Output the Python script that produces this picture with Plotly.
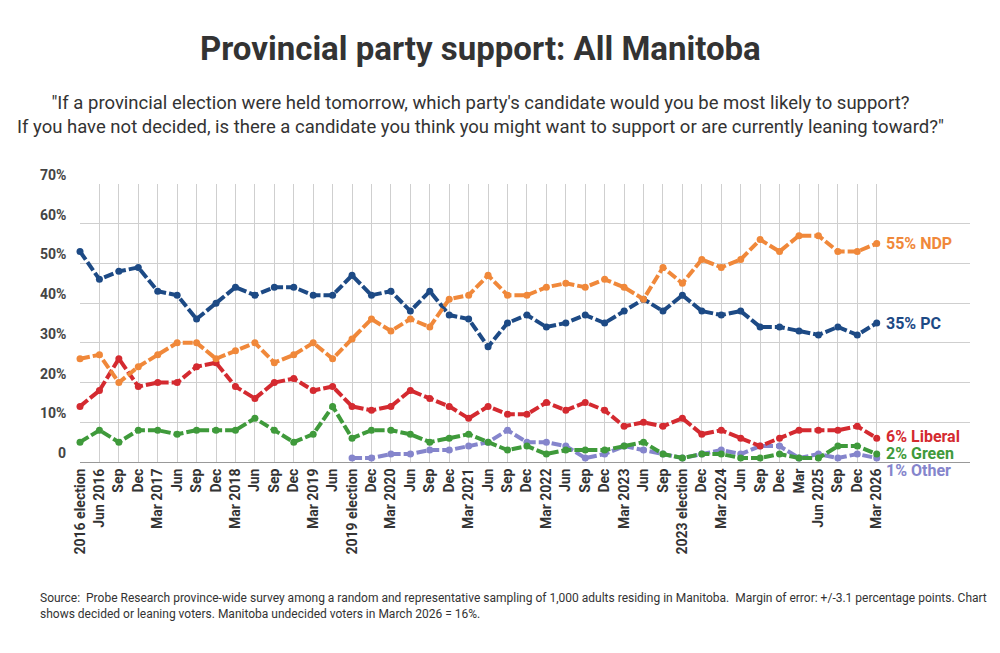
import plotly.graph_objects as go

categories = ["2016 election","Jun 2016","Sep","Dec","Mar 2017","Jun","Sep","Dec","Mar 2018","Jun","Sep","Dec",
              "Mar 2019","Jun","2019 election","Dec","Mar 2020","Jun","Sep","Dec","Mar 2021","Jun","Sep","Dec",
              "Mar 2022","Jun","Sep","Dec","Mar 2023","Jun","Sep","2023 election","Dec","Mar 2024","Jun","Sep",
              "Dec","Mar","Jun 2025","Sep","Dec","Mar 2026"]
pc = [53,46,48,49,43,42,36,40,44,42,44,44,42,42,47,42,43,38,43,37,36,29,35,37,34,35,37,35,38,41,38,42,38,37,38,34,34,33,32,34,32,35]
ndp = [26,27,20,24,27,30,30,26,28,30,25,27,30,26,31,36,33,36,34,41,42,47,42,42,44,45,44,46,44,41,49,45,51,49,51,56,53,57,57,53,53,55]
liberal = [14,18,26,19,20,20,24,25,19,16,20,21,18,19,14,13,14,18,16,14,11,14,12,12,15,13,15,13,9,10,9,11,7,8,6,4,6,8,8,8,9,6]
green = [5,8,5,8,8,7,8,8,8,11,8,5,7,14,6,8,8,7,5,6,7,5,3,4,2,3,3,3,4,5,2,1,2,2,1,1,2,1,1,4,4,2]
other_start = 14
other = [1,1,2,2,3,3,4,5,8,5,5,4,1,2,4,3,2,1,2,3,2,4,4,1,2,1,2,1]
y_ticks = [0,10,20,30,40,50,60,70]
y_ticktext = ["0","10%","20%","30%","40%","50%","60%","70%"]

series = [
    ("Other", list(range(other_start, other_start+len(other))), other, "#8585cc", "1% Other"),
    ("Green", list(range(len(green))), green, "#3f9a3b", "2% Green"),
    ("Liberal", list(range(len(liberal))), liberal, "#d42a30", "6% Liberal"),
    ("PC", list(range(len(pc))), pc, "#1d4a85", "35% PC"),
    ("NDP", list(range(len(ndp))), ndp, "#f0883a", "55% NDP"),
]

fig = go.Figure()
ann = []
label_y = {"Other": -0.03, "Green": 0.03, "Liberal": 0.09, "PC": 0.5, "NDP": 0.786}
for name, xs, ys, col, lab in series:
    fig.add_trace(go.Scatter(x=xs, y=ys, mode="lines+markers", name=name,
                             line=dict(color=col, width=4, dash="10px,3px"),
                             marker=dict(color=col, size=7), cliponaxis=False))
    ann.append(dict(x=xs[-1], y=label_y[name], xref="x", yref="paper", text=f"<b>{lab}</b>",
                    showarrow=False, xanchor="left", yanchor="middle", xshift=7,
                    font=dict(size=16, color=col, family="Roboto")))

for t, tt in zip(y_ticks, y_ticktext):
    ann.append(dict(x=0, y=t, xref="paper", yref="y", text=f"<b>{tt}</b>", showarrow=False,
                    xanchor="right", yanchor="middle", xshift=-12, yshift=9, font=dict(size=14, color="#444", family="Roboto")))

ann.append(dict(x=0.45, y=1.489, xref="paper", yref="paper", yanchor="middle", text="<b>Provincial party support: All Manitoba</b>",
                showarrow=False, font=dict(size=33, color="#333", family="Roboto")))
ann.append(dict(x=0.45, y=1.25, xref="paper", yref="paper", yanchor="middle",
                text="\"If a provincial election were held tomorrow, which party's candidate would you be most likely to support?<br>If you have not decided, is there a candidate you think you might want to support or are currently leaning toward?\"",
                showarrow=False, font=dict(size=18.5, color="#333", family="Roboto")))
ann.append(dict(x=-0.047, y=-0.518, xref="paper", yref="paper", xanchor="left", yanchor="middle", align="left",
                text="Source:  Probe Research province-wide survey among a random and representative sampling of 1,000 adults residing in Manitoba.  Margin of error: +/-3.1 percentage points. Chart<br>shows decided or leaning voters. Manitoba undecided voters in March 2026 = 16%.",
                showarrow=False, font=dict(size=12, color="#333", family="Roboto")))

fig.update_layout(
    width=1000, height=653, paper_bgcolor="white", plot_bgcolor="white",
    margin=dict(l=72, r=38, t=176, b=199), showlegend=False, annotations=ann,
    font=dict(family="Roboto", color="#333"),
)
fig.update_xaxes(range=[0, 45.8], tickmode="array", tickvals=list(range(len(categories))), ticktext=[f"<b>{c}</b>" for c in categories],
                 tickangle=-90, tickfont=dict(size=14, color="#333"), showgrid=True, gridcolor="#cfcfcf",
                 showline=True, linecolor="#999", ticks="", zeroline=False, automargin=False)
fig.update_yaxes(range=[0, 70], tickvals=y_ticks, showticklabels=False, showgrid=True, gridcolor="#cfcfcf",
                 zeroline=True, zerolinecolor="#999", zerolinewidth=1.5)
fig.write_html("out.html")
